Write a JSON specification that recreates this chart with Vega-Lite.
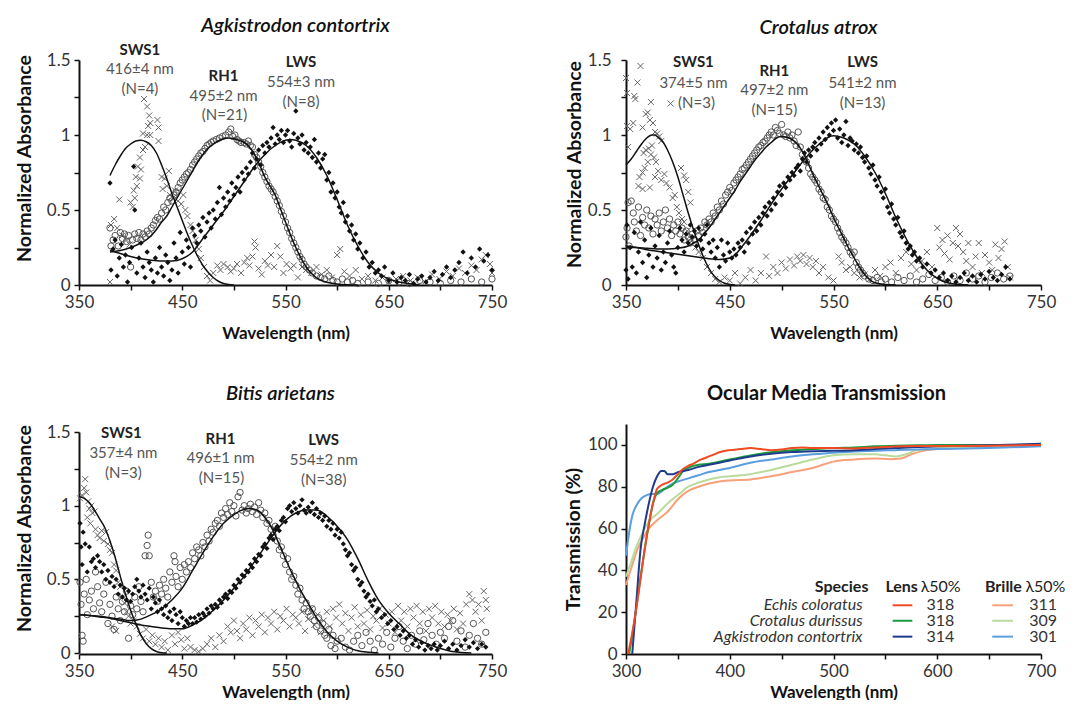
{
"$schema":"https://vega.github.io/schema/vega-lite/v6.json",
"padding":{"left":14,"top":15,"right":0,"bottom":0},
"background":"white",
"columns":2,"align":"each","bounds":"flush",
"spacing":{"row":139,"column":134},
"datasets":{
"aS":[{"x":413,"y":1.24},{"x":416,"y":1.19},{"x":418,"y":1.13},{"x":419,"y":1.08},{"x":426,"y":1.1},{"x":417,"y":1.06},{"x":427,"y":1.05},{"x":412,"y":1.01},{"x":416,"y":1.0},{"x":419,"y":1.0},{"x":427,"y":0.96},{"x":414,"y":0.92},{"x":412,"y":0.9},{"x":409,"y":0.85},{"x":407,"y":0.79},{"x":410,"y":0.77},{"x":405,"y":0.72},{"x":409,"y":0.71},{"x":406,"y":0.66},{"x":403,"y":0.63},{"x":404,"y":0.58},{"x":400,"y":0.55},{"x":402,"y":0.52},{"x":389,"y":0.57},{"x":384,"y":0.44},{"x":381,"y":0.4},{"x":387,"y":0.38},{"x":392,"y":0.33},{"x":396,"y":0.3},{"x":399,"y":0.27},{"x":380,"y":0.02},{"x":430,"y":0.72},{"x":433,"y":0.71},{"x":431,"y":0.64},{"x":437,"y":0.76},{"x":435,"y":0.66},{"x":438,"y":0.6},{"x":441,"y":0.58},{"x":443,"y":0.63},{"x":446,"y":0.56},{"x":449,"y":0.54},{"x":451,"y":0.6},{"x":453,"y":0.5},{"x":455,"y":0.46},{"x":458,"y":0.4},{"x":460,"y":0.36},{"x":463,"y":0.3},{"x":466,"y":0.24},{"x":468,"y":0.18},{"x":471,"y":0.12},{"x":474,"y":0.06},{"x":477,"y":0.03},{"x":480,"y":0.08},{"x":484,"y":0.13},{"x":487,"y":0.1},{"x":490,"y":0.14},{"x":494,"y":0.12},{"x":497,"y":0.09},{"x":500,"y":0.11},{"x":503,"y":0.14},{"x":507,"y":0.08},{"x":510,"y":0.15},{"x":513,"y":0.18},{"x":515,"y":0.13},{"x":518,"y":0.19},{"x":520,"y":0.29},{"x":521,"y":0.25},{"x":524,"y":0.11},{"x":527,"y":0.07},{"x":530,"y":0.16},{"x":533,"y":0.13},{"x":536,"y":0.2},{"x":539,"y":0.12},{"x":542,"y":0.26},{"x":545,"y":0.19},{"x":548,"y":0.08},{"x":551,"y":0.14},{"x":555,"y":0.11},{"x":558,"y":0.13},{"x":562,"y":0.05},{"x":566,"y":0.12},{"x":570,"y":0.1},{"x":575,"y":0.08},{"x":580,"y":0.12},{"x":585,"y":0.07},{"x":590,"y":0.1},{"x":595,"y":0.05},{"x":600,"y":0.2},{"x":603,"y":0.24},{"x":607,"y":0.09},{"x":612,"y":0.06},{"x":618,"y":0.1},{"x":624,"y":0.04},{"x":630,"y":0.06},{"x":637,"y":0.03},{"x":644,"y":0.05},{"x":650,"y":0.02},{"x":657,"y":0.04},{"x":664,"y":0.06},{"x":671,"y":0.03},{"x":678,"y":0.05},{"x":685,"y":0.02},{"x":692,"y":0.07},{"x":699,"y":0.04},{"x":706,"y":0.09},{"x":712,"y":0.06},{"x":718,"y":0.11},{"x":724,"y":0.08},{"x":730,"y":0.13},{"x":735,"y":0.1},{"x":740,"y":0.17},{"x":744,"y":0.2},{"x":748,"y":0.14},{"x":750,"y":0.08}],
"aR":[{"x":380,"y":0.38},{"x":381,"y":0.26},{"x":383,"y":0.3},{"x":385,"y":0.33},{"x":388,"y":0.26},{"x":390,"y":0.35},{"x":392,"y":0.31},{"x":394,"y":0.34},{"x":396,"y":0.29},{"x":398,"y":0.33},{"x":400,"y":0.12},{"x":402,"y":0.3},{"x":404,"y":0.34},{"x":406,"y":0.31},{"x":408,"y":0.35},{"x":410,"y":0.3},{"x":412,"y":0.34},{"x":414,"y":0.32},{"x":416,"y":0.36},{"x":418,"y":0.34},{"x":420,"y":0.38},{"x":422,"y":0.4},{"x":424,"y":0.43},{"x":426,"y":0.45},{"x":428,"y":0.44},{"x":430,"y":0.48},{"x":432,"y":0.52},{"x":434,"y":0.5},{"x":436,"y":0.55},{"x":438,"y":0.58},{"x":440,"y":0.56},{"x":442,"y":0.6},{"x":444,"y":0.62},{"x":446,"y":0.65},{"x":448,"y":0.68},{"x":450,"y":0.7},{"x":452,"y":0.72},{"x":454,"y":0.74},{"x":456,"y":0.75},{"x":458,"y":0.77},{"x":460,"y":0.8},{"x":462,"y":0.82},{"x":464,"y":0.84},{"x":466,"y":0.86},{"x":468,"y":0.88},{"x":470,"y":0.89},{"x":472,"y":0.91},{"x":474,"y":0.93},{"x":476,"y":0.94},{"x":478,"y":0.95},{"x":480,"y":0.96},{"x":483,"y":0.97},{"x":486,"y":0.98},{"x":489,"y":0.99},{"x":492,"y":1.0},{"x":495,"y":1.02},{"x":497,"y":1.04},{"x":499,"y":0.99},{"x":501,"y":1.0},{"x":503,"y":0.97},{"x":505,"y":0.96},{"x":507,"y":0.95},{"x":510,"y":0.95},{"x":512,"y":0.94},{"x":514,"y":0.96},{"x":516,"y":0.93},{"x":518,"y":0.92},{"x":520,"y":0.87},{"x":522,"y":0.85},{"x":524,"y":0.82},{"x":526,"y":0.79},{"x":528,"y":0.75},{"x":530,"y":0.72},{"x":532,"y":0.69},{"x":534,"y":0.66},{"x":536,"y":0.64},{"x":538,"y":0.62},{"x":540,"y":0.59},{"x":542,"y":0.56},{"x":544,"y":0.53},{"x":546,"y":0.49},{"x":548,"y":0.46},{"x":550,"y":0.42},{"x":552,"y":0.38},{"x":554,"y":0.35},{"x":556,"y":0.31},{"x":558,"y":0.28},{"x":560,"y":0.25},{"x":562,"y":0.22},{"x":564,"y":0.19},{"x":566,"y":0.17},{"x":568,"y":0.14},{"x":570,"y":0.12},{"x":573,"y":0.1},{"x":576,"y":0.08},{"x":580,"y":0.06},{"x":584,"y":0.05},{"x":588,"y":0.04},{"x":592,"y":0.06},{"x":596,"y":0.03},{"x":600,"y":0.02},{"x":605,"y":0.04},{"x":610,"y":0.02},{"x":615,"y":0.03},{"x":620,"y":0.01},{"x":630,"y":0.02},{"x":640,"y":0.01},{"x":650,"y":0.03},{"x":660,"y":0.02},{"x":670,"y":0.01},{"x":680,"y":0.03},{"x":690,"y":0.02},{"x":700,"y":0.01},{"x":710,"y":0.03},{"x":720,"y":0.02},{"x":730,"y":0.04},{"x":740,"y":0.02},{"x":750,"y":0.04}],
"aL":[{"x":380,"y":0.68},{"x":381,"y":0.1},{"x":383,"y":0.24},{"x":385,"y":0.3},{"x":387,"y":0.06},{"x":389,"y":0.18},{"x":391,"y":0.27},{"x":393,"y":0.12},{"x":395,"y":0.2},{"x":397,"y":0.02},{"x":399,"y":0.15},{"x":401,"y":0.25},{"x":403,"y":0.79},{"x":404,"y":0.5},{"x":406,"y":0.08},{"x":408,"y":0.18},{"x":410,"y":0.28},{"x":412,"y":0.12},{"x":414,"y":0.05},{"x":416,"y":0.22},{"x":418,"y":0.15},{"x":420,"y":0.1},{"x":422,"y":0.02},{"x":424,"y":0.18},{"x":426,"y":0.08},{"x":428,"y":0.25},{"x":430,"y":0.12},{"x":432,"y":0.06},{"x":434,"y":0.2},{"x":436,"y":0.15},{"x":438,"y":0.03},{"x":440,"y":0.1},{"x":442,"y":0.28},{"x":444,"y":0.18},{"x":446,"y":0.08},{"x":448,"y":0.35},{"x":450,"y":0.22},{"x":452,"y":0.14},{"x":454,"y":0.3},{"x":456,"y":0.25},{"x":458,"y":0.12},{"x":460,"y":0.38},{"x":462,"y":0.33},{"x":464,"y":0.28},{"x":466,"y":0.4},{"x":468,"y":0.36},{"x":470,"y":0.45},{"x":472,"y":0.32},{"x":474,"y":0.42},{"x":476,"y":0.48},{"x":478,"y":0.38},{"x":480,"y":0.5},{"x":482,"y":0.44},{"x":484,"y":0.55},{"x":486,"y":0.65},{"x":488,"y":0.47},{"x":490,"y":0.58},{"x":492,"y":0.52},{"x":494,"y":0.62},{"x":496,"y":0.56},{"x":498,"y":0.68},{"x":500,"y":0.6},{"x":502,"y":0.65},{"x":504,"y":0.72},{"x":506,"y":0.62},{"x":508,"y":0.75},{"x":510,"y":0.7},{"x":512,"y":0.78},{"x":514,"y":0.74},{"x":516,"y":0.82},{"x":518,"y":0.88},{"x":520,"y":0.78},{"x":522,"y":0.84},{"x":524,"y":0.9},{"x":526,"y":0.8},{"x":528,"y":0.93},{"x":530,"y":0.88},{"x":532,"y":0.95},{"x":534,"y":0.92},{"x":536,"y":0.98},{"x":538,"y":1.05},{"x":540,"y":0.94},{"x":542,"y":1.0},{"x":544,"y":0.97},{"x":546,"y":1.03},{"x":548,"y":0.95},{"x":550,"y":1.0},{"x":552,"y":1.03},{"x":554,"y":0.96},{"x":556,"y":0.92},{"x":558,"y":1.01},{"x":560,"y":1.16},{"x":562,"y":0.98},{"x":564,"y":0.94},{"x":566,"y":1.0},{"x":568,"y":0.9},{"x":570,"y":0.95},{"x":572,"y":0.88},{"x":574,"y":0.92},{"x":576,"y":0.85},{"x":578,"y":0.97},{"x":580,"y":0.82},{"x":582,"y":0.88},{"x":584,"y":0.78},{"x":586,"y":0.84},{"x":588,"y":0.87},{"x":590,"y":0.7},{"x":592,"y":0.75},{"x":594,"y":0.62},{"x":596,"y":0.68},{"x":598,"y":0.58},{"x":600,"y":0.62},{"x":602,"y":0.52},{"x":604,"y":0.48},{"x":606,"y":0.55},{"x":608,"y":0.42},{"x":610,"y":0.46},{"x":612,"y":0.36},{"x":614,"y":0.4},{"x":616,"y":0.3},{"x":618,"y":0.34},{"x":620,"y":0.24},{"x":622,"y":0.28},{"x":625,"y":0.18},{"x":628,"y":0.22},{"x":631,"y":0.12},{"x":634,"y":0.15},{"x":637,"y":0.08},{"x":640,"y":0.1},{"x":643,"y":0.06},{"x":646,"y":0.12},{"x":650,"y":0.03},{"x":654,"y":0.08},{"x":658,"y":0.02},{"x":662,"y":0.05},{"x":666,"y":0.03},{"x":670,"y":0.07},{"x":674,"y":0.01},{"x":678,"y":0.04},{"x":682,"y":0.06},{"x":686,"y":0.02},{"x":690,"y":0.05},{"x":694,"y":0.09},{"x":698,"y":0.03},{"x":702,"y":0.07},{"x":706,"y":0.12},{"x":710,"y":0.05},{"x":714,"y":0.1},{"x":718,"y":0.15},{"x":722,"y":0.22},{"x":726,"y":0.08},{"x":730,"y":0.18},{"x":734,"y":0.12},{"x":738,"y":0.24},{"x":742,"y":0.16},{"x":746,"y":0.2},{"x":750,"y":0.1}],
"aC":[{"s":"S","x":380,"y":0.73},{"s":"S","x":385,"y":0.8},{"s":"S","x":390,"y":0.86},{"s":"S","x":395,"y":0.91},{"s":"S","x":400,"y":0.94},{"s":"S","x":405,"y":0.96},{"s":"S","x":410,"y":0.965},{"s":"S","x":415,"y":0.955},{"s":"S","x":420,"y":0.93},{"s":"S","x":425,"y":0.88},{"s":"S","x":430,"y":0.8},{"s":"S","x":435,"y":0.71},{"s":"S","x":440,"y":0.61},{"s":"S","x":445,"y":0.52},{"s":"S","x":450,"y":0.43},{"s":"S","x":455,"y":0.34},{"s":"S","x":460,"y":0.26},{"s":"S","x":465,"y":0.19},{"s":"S","x":470,"y":0.13},{"s":"S","x":475,"y":0.085},{"s":"S","x":480,"y":0.05},{"s":"S","x":485,"y":0.025},{"s":"S","x":490,"y":0.01},{"s":"S","x":495,"y":0.003},{"s":"S","x":500,"y":0},
{"s":"R","x":380,"y":0.22},{"s":"R","x":390,"y":0.23},{"s":"R","x":400,"y":0.25},{"s":"R","x":410,"y":0.28},{"s":"R","x":415,"y":0.3},{"s":"R","x":420,"y":0.33},{"s":"R","x":425,"y":0.37},{"s":"R","x":430,"y":0.42},{"s":"R","x":435,"y":0.46},{"s":"R","x":440,"y":0.52},{"s":"R","x":445,"y":0.58},{"s":"R","x":450,"y":0.64},{"s":"R","x":455,"y":0.7},{"s":"R","x":460,"y":0.76},{"s":"R","x":465,"y":0.82},{"s":"R","x":470,"y":0.87},{"s":"R","x":475,"y":0.91},{"s":"R","x":480,"y":0.94},{"s":"R","x":485,"y":0.96},{"s":"R","x":490,"y":0.975},{"s":"R","x":495,"y":0.98},{"s":"R","x":500,"y":0.975},{"s":"R","x":505,"y":0.965},{"s":"R","x":510,"y":0.95},{"s":"R","x":515,"y":0.92},{"s":"R","x":520,"y":0.87},{"s":"R","x":525,"y":0.8},{"s":"R","x":530,"y":0.72},{"s":"R","x":535,"y":0.66},{"s":"R","x":540,"y":0.6},{"s":"R","x":545,"y":0.51},{"s":"R","x":550,"y":0.42},{"s":"R","x":555,"y":0.33},{"s":"R","x":560,"y":0.25},{"s":"R","x":565,"y":0.18},{"s":"R","x":570,"y":0.12},{"s":"R","x":575,"y":0.078},{"s":"R","x":580,"y":0.048},{"s":"R","x":585,"y":0.03},{"s":"R","x":590,"y":0.018},{"s":"R","x":600,"y":0.007},{"s":"R","x":610,"y":0.002},{"s":"R","x":620,"y":0},
{"s":"L","x":380,"y":0.23},{"s":"L","x":390,"y":0.21},{"s":"L","x":400,"y":0.19},{"s":"L","x":410,"y":0.175},{"s":"L","x":420,"y":0.165},{"s":"L","x":430,"y":0.16},{"s":"L","x":440,"y":0.16},{"s":"L","x":450,"y":0.175},{"s":"L","x":460,"y":0.22},{"s":"L","x":470,"y":0.31},{"s":"L","x":480,"y":0.4},{"s":"L","x":490,"y":0.49},{"s":"L","x":500,"y":0.59},{"s":"L","x":510,"y":0.69},{"s":"L","x":520,"y":0.79},{"s":"L","x":530,"y":0.87},{"s":"L","x":540,"y":0.93},{"s":"L","x":550,"y":0.965},{"s":"L","x":555,"y":0.97},{"s":"L","x":560,"y":0.965},{"s":"L","x":570,"y":0.93},{"s":"L","x":580,"y":0.85},{"s":"L","x":590,"y":0.73},{"s":"L","x":600,"y":0.57},{"s":"L","x":610,"y":0.4},{"s":"L","x":620,"y":0.26},{"s":"L","x":630,"y":0.15},{"s":"L","x":640,"y":0.08},{"s":"L","x":650,"y":0.04},{"s":"L","x":660,"y":0.02},{"s":"L","x":670,"y":0.008},{"s":"L","x":680,"y":0}],
"aT":[{"x":409,"y":1.567,"t":"SWS1"},{"x":490,"y":1.393,"t":"RH1"},{"x":565,"y":1.489,"t":"LWS"}],
"aV":[{"x":409,"y":1.438,"t":"416±4 nm"},{"x":409,"y":1.305,"t":"(N=4)"},{"x":490,"y":1.26,"t":"495±2 nm"},{"x":491,"y":1.133,"t":"(N=21)"},{"x":565,"y":1.355,"t":"554±3 nm"},{"x":565,"y":1.222,"t":"(N=8)"}],
"cS":[{"x":350,"y":1.38},{"x":351,"y":1.28},{"x":351,"y":1.06},{"x":352,"y":0.92},{"x":354,"y":1.04},{"x":357,"y":1.08},{"x":358,"y":1.26},{"x":359,"y":1.24},{"x":361,"y":1.35},{"x":364,"y":1.46},{"x":366,"y":1.05},{"x":369,"y":1.14},{"x":371,"y":1.15},{"x":373,"y":1.1},{"x":374,"y":1.22},{"x":376,"y":1.08},{"x":378,"y":1.02},{"x":380,"y":1.01},{"x":382,"y":0.99},{"x":384,"y":0.96},{"x":393,"y":1.21},{"x":367,"y":0.88},{"x":369,"y":0.9},{"x":371,"y":0.82},{"x":372,"y":0.91},{"x":374,"y":0.87},{"x":375,"y":0.93},{"x":377,"y":0.85},{"x":378,"y":0.72},{"x":366,"y":0.75},{"x":368,"y":0.78},{"x":363,"y":0.72},{"x":362,"y":0.66},{"x":366,"y":0.64},{"x":373,"y":0.65},{"x":379,"y":0.82},{"x":381,"y":0.76},{"x":384,"y":0.7},{"x":387,"y":0.74},{"x":389,"y":0.68},{"x":392,"y":0.65},{"x":395,"y":0.58},{"x":397,"y":0.6},{"x":399,"y":0.52},{"x":403,"y":0.78},{"x":406,"y":0.73},{"x":408,"y":0.7},{"x":410,"y":0.62},{"x":412,"y":0.55},{"x":401,"y":0.48},{"x":404,"y":0.44},{"x":406,"y":0.42},{"x":409,"y":0.36},{"x":411,"y":0.32},{"x":414,"y":0.3},{"x":417,"y":0.25},{"x":420,"y":0.22},{"x":424,"y":0.18},{"x":428,"y":0.12},{"x":432,"y":0.08},{"x":436,"y":0.04},{"x":440,"y":0.02},{"x":445,"y":0.05},{"x":450,"y":0.03},{"x":455,"y":0.08},{"x":460,"y":0.01},{"x":465,"y":0.05},{"x":470,"y":0.1},{"x":475,"y":0.03},{"x":480,"y":0.08},{"x":485,"y":0.19},{"x":488,"y":0.06},{"x":492,"y":0.12},{"x":496,"y":0.08},{"x":500,"y":0.15},{"x":504,"y":0.11},{"x":508,"y":0.17},{"x":512,"y":0.13},{"x":515,"y":0.19},{"x":518,"y":0.16},{"x":521,"y":0.2},{"x":524,"y":0.14},{"x":527,"y":0.18},{"x":530,"y":0.12},{"x":533,"y":0.16},{"x":536,"y":0.08},{"x":540,"y":0.12},{"x":545,"y":0.05},{"x":550,"y":0.03},{"x":555,"y":0.19},{"x":558,"y":0.15},{"x":562,"y":0.1},{"x":566,"y":0.12},{"x":570,"y":0.08},{"x":575,"y":0.05},{"x":580,"y":0.07},{"x":585,"y":0.04},{"x":590,"y":0.1},{"x":595,"y":0.06},{"x":600,"y":0.12},{"x":605,"y":0.15},{"x":610,"y":0.08},{"x":615,"y":0.18},{"x":620,"y":0.22},{"x":625,"y":0.14},{"x":630,"y":0.1},{"x":635,"y":0.16},{"x":640,"y":0.22},{"x":645,"y":0.12},{"x":650,"y":0.38},{"x":652,"y":0.25},{"x":655,"y":0.3},{"x":657,"y":0.21},{"x":660,"y":0.33},{"x":662,"y":0.17},{"x":665,"y":0.28},{"x":668,"y":0.38},{"x":670,"y":0.26},{"x":672,"y":0.34},{"x":675,"y":0.22},{"x":678,"y":0.16},{"x":680,"y":0.28},{"x":684,"y":0.12},{"x":687,"y":0.19},{"x":690,"y":0.28},{"x":693,"y":0.08},{"x":696,"y":0.2},{"x":700,"y":0.15},{"x":703,"y":0.1},{"x":706,"y":0.27},{"x":709,"y":0.18},{"x":712,"y":0.24},{"x":715,"y":0.29},{"x":718,"y":0.12},{"x":720,"y":0.05}],
"cR":[{"x":350,"y":0.32},{"x":351,"y":0.38},{"x":352,"y":0.55},{"x":353,"y":0.26},{"x":355,"y":0.56},{"x":357,"y":0.48},{"x":358,"y":0.42},{"x":360,"y":0.36},{"x":362,"y":0.52},{"x":364,"y":0.33},{"x":366,"y":0.45},{"x":368,"y":0.4},{"x":370,"y":0.5},{"x":372,"y":0.38},{"x":374,"y":0.46},{"x":376,"y":0.34},{"x":378,"y":0.44},{"x":380,"y":0.4},{"x":382,"y":0.48},{"x":384,"y":0.36},{"x":386,"y":0.42},{"x":388,"y":0.5},{"x":390,"y":0.38},{"x":392,"y":0.44},{"x":394,"y":0.33},{"x":396,"y":0.4},{"x":398,"y":0.36},{"x":400,"y":0.42},{"x":402,"y":0.34},{"x":404,"y":0.38},{"x":406,"y":0.3},{"x":408,"y":0.36},{"x":410,"y":0.32},{"x":412,"y":0.28},{"x":414,"y":0.34},{"x":416,"y":0.3},{"x":418,"y":0.36},{"x":420,"y":0.33},{"x":422,"y":0.38},{"x":424,"y":0.35},{"x":426,"y":0.42},{"x":428,"y":0.4},{"x":430,"y":0.44},{"x":432,"y":0.42},{"x":434,"y":0.48},{"x":436,"y":0.46},{"x":438,"y":0.52},{"x":440,"y":0.5},{"x":442,"y":0.56},{"x":444,"y":0.54},{"x":446,"y":0.6},{"x":448,"y":0.62},{"x":450,"y":0.65},{"x":452,"y":0.63},{"x":454,"y":0.68},{"x":456,"y":0.7},{"x":458,"y":0.72},{"x":460,"y":0.74},{"x":462,"y":0.77},{"x":464,"y":0.78},{"x":466,"y":0.8},{"x":468,"y":0.82},{"x":470,"y":0.84},{"x":472,"y":0.86},{"x":474,"y":0.88},{"x":476,"y":0.9},{"x":478,"y":0.92},{"x":480,"y":0.93},{"x":482,"y":0.95},{"x":484,"y":0.96},{"x":486,"y":0.98},{"x":488,"y":1.0},{"x":490,"y":1.02},{"x":492,"y":1.0},{"x":494,"y":1.05},{"x":496,"y":1.03},{"x":498,"y":1.01},{"x":500,"y":1.07},{"x":502,"y":1.0},{"x":504,"y":0.99},{"x":506,"y":1.02},{"x":508,"y":0.98},{"x":510,"y":1.0},{"x":512,"y":0.96},{"x":514,"y":0.93},{"x":516,"y":1.02},{"x":518,"y":0.92},{"x":520,"y":0.87},{"x":522,"y":0.84},{"x":524,"y":0.82},{"x":526,"y":0.78},{"x":528,"y":0.74},{"x":530,"y":0.72},{"x":532,"y":0.7},{"x":534,"y":0.68},{"x":536,"y":0.64},{"x":538,"y":0.62},{"x":540,"y":0.58},{"x":542,"y":0.57},{"x":544,"y":0.52},{"x":546,"y":0.5},{"x":548,"y":0.46},{"x":550,"y":0.44},{"x":552,"y":0.42},{"x":554,"y":0.38},{"x":556,"y":0.35},{"x":558,"y":0.32},{"x":560,"y":0.3},{"x":562,"y":0.28},{"x":564,"y":0.25},{"x":566,"y":0.22},{"x":568,"y":0.2},{"x":570,"y":0.22},{"x":572,"y":0.15},{"x":574,"y":0.12},{"x":576,"y":0.1},{"x":578,"y":0.08},{"x":580,"y":0.06},{"x":584,"y":0.04},{"x":588,"y":0.03},{"x":592,"y":0.05},{"x":596,"y":0.02},{"x":600,"y":0.04},{"x":606,"y":0.02},{"x":612,"y":0.05},{"x":618,"y":0.03},{"x":624,"y":0.06},{"x":630,"y":0.02},{"x":636,"y":0.04},{"x":642,"y":0.07},{"x":648,"y":0.03},{"x":654,"y":0.05},{"x":660,"y":0.02},{"x":666,"y":0.06},{"x":672,"y":0.03},{"x":678,"y":0.08},{"x":684,"y":0.04},{"x":690,"y":0.06},{"x":696,"y":0.02},{"x":702,"y":0.05},{"x":708,"y":0.08},{"x":714,"y":0.04},{"x":720,"y":0.06}],
"cL":[{"x":350,"y":0.1},{"x":351,"y":0.4},{"x":352,"y":0.04},{"x":354,"y":0.25},{"x":356,"y":0.12},{"x":358,"y":0.35},{"x":360,"y":0.08},{"x":362,"y":0.22},{"x":364,"y":0.42},{"x":366,"y":0.15},{"x":368,"y":0.3},{"x":370,"y":0.05},{"x":372,"y":0.2},{"x":374,"y":0.38},{"x":376,"y":0.12},{"x":378,"y":0.26},{"x":380,"y":0.18},{"x":382,"y":0.33},{"x":384,"y":0.1},{"x":386,"y":0.22},{"x":388,"y":0.15},{"x":390,"y":0.28},{"x":392,"y":0.36},{"x":394,"y":0.2},{"x":396,"y":0.12},{"x":398,"y":0.08},{"x":400,"y":0.25},{"x":402,"y":0.38},{"x":404,"y":0.3},{"x":406,"y":0.22},{"x":408,"y":0.34},{"x":410,"y":0.28},{"x":412,"y":0.4},{"x":414,"y":0.32},{"x":416,"y":0.36},{"x":418,"y":0.26},{"x":420,"y":0.38},{"x":422,"y":0.3},{"x":424,"y":0.24},{"x":426,"y":0.34},{"x":428,"y":0.4},{"x":430,"y":0.28},{"x":432,"y":0.22},{"x":434,"y":0.3},{"x":436,"y":0.18},{"x":438,"y":0.25},{"x":440,"y":0.12},{"x":442,"y":0.3},{"x":444,"y":0.2},{"x":446,"y":0.16},{"x":448,"y":0.28},{"x":450,"y":0.22},{"x":452,"y":0.18},{"x":454,"y":0.24},{"x":456,"y":0.2},{"x":458,"y":0.28},{"x":460,"y":0.25},{"x":462,"y":0.3},{"x":464,"y":0.22},{"x":466,"y":0.35},{"x":468,"y":0.28},{"x":470,"y":0.38},{"x":472,"y":0.34},{"x":474,"y":0.42},{"x":476,"y":0.36},{"x":478,"y":0.45},{"x":480,"y":0.4},{"x":482,"y":0.48},{"x":484,"y":0.52},{"x":486,"y":0.46},{"x":488,"y":0.55},{"x":490,"y":0.5},{"x":492,"y":0.58},{"x":494,"y":0.54},{"x":496,"y":0.62},{"x":498,"y":0.66},{"x":500,"y":0.6},{"x":502,"y":0.68},{"x":504,"y":0.65},{"x":506,"y":0.72},{"x":508,"y":0.7},{"x":510,"y":0.75},{"x":512,"y":0.73},{"x":514,"y":0.78},{"x":516,"y":0.8},{"x":518,"y":0.76},{"x":520,"y":0.84},{"x":522,"y":0.88},{"x":524,"y":0.82},{"x":526,"y":0.9},{"x":528,"y":0.86},{"x":530,"y":0.92},{"x":532,"y":0.95},{"x":534,"y":0.9},{"x":536,"y":0.98},{"x":538,"y":0.94},{"x":540,"y":1.02},{"x":542,"y":0.97},{"x":544,"y":1.05},{"x":546,"y":1.0},{"x":548,"y":1.08},{"x":550,"y":1.03},{"x":552,"y":1.1},{"x":554,"y":0.98},{"x":556,"y":1.04},{"x":558,"y":0.95},{"x":560,"y":1.0},{"x":562,"y":1.09},{"x":564,"y":0.93},{"x":566,"y":0.98},{"x":568,"y":0.96},{"x":570,"y":0.9},{"x":572,"y":0.94},{"x":574,"y":0.88},{"x":576,"y":0.92},{"x":578,"y":0.85},{"x":580,"y":0.82},{"x":582,"y":0.86},{"x":584,"y":0.78},{"x":586,"y":0.74},{"x":588,"y":0.8},{"x":590,"y":0.7},{"x":592,"y":0.66},{"x":594,"y":0.72},{"x":596,"y":0.62},{"x":598,"y":0.58},{"x":600,"y":0.64},{"x":602,"y":0.52},{"x":604,"y":0.48},{"x":606,"y":0.54},{"x":608,"y":0.44},{"x":610,"y":0.4},{"x":612,"y":0.45},{"x":614,"y":0.35},{"x":616,"y":0.32},{"x":618,"y":0.36},{"x":620,"y":0.28},{"x":622,"y":0.24},{"x":624,"y":0.26},{"x":626,"y":0.2},{"x":628,"y":0.22},{"x":630,"y":0.16},{"x":633,"y":0.18},{"x":636,"y":0.12},{"x":640,"y":0.14},{"x":644,"y":0.08},{"x":648,"y":0.1},{"x":652,"y":0.05},{"x":656,"y":0.08},{"x":660,"y":0.03},{"x":664,"y":0.06},{"x":668,"y":0.02},{"x":672,"y":0.05},{"x":676,"y":0.08},{"x":680,"y":0.03},{"x":684,"y":0.06},{"x":688,"y":0.02},{"x":692,"y":0.07},{"x":696,"y":0.04},{"x":700,"y":0.09},{"x":704,"y":0.05},{"x":708,"y":0.03},{"x":712,"y":0.07},{"x":716,"y":0.12},{"x":720,"y":0.04}],
"cC":[{"s":"S","x":350,"y":0.8},{"s":"S","x":355,"y":0.84},{"s":"S","x":360,"y":0.89},{"s":"S","x":365,"y":0.94},{"s":"S","x":370,"y":0.98},{"s":"S","x":375,"y":1.0},{"s":"S","x":378,"y":1.0},{"s":"S","x":380,"y":0.99},{"s":"S","x":385,"y":0.96},{"s":"S","x":390,"y":0.9},{"s":"S","x":395,"y":0.82},{"s":"S","x":400,"y":0.72},{"s":"S","x":405,"y":0.6},{"s":"S","x":410,"y":0.48},{"s":"S","x":415,"y":0.37},{"s":"S","x":420,"y":0.27},{"s":"S","x":425,"y":0.18},{"s":"S","x":430,"y":0.11},{"s":"S","x":435,"y":0.06},{"s":"S","x":440,"y":0.03},{"s":"S","x":445,"y":0.012},{"s":"S","x":450,"y":0.004},{"s":"S","x":455,"y":0},
{"s":"R","x":350,"y":0.25},{"s":"R","x":360,"y":0.25},{"s":"R","x":370,"y":0.245},{"s":"R","x":380,"y":0.24},{"s":"R","x":390,"y":0.24},{"s":"R","x":400,"y":0.245},{"s":"R","x":410,"y":0.26},{"s":"R","x":415,"y":0.28},{"s":"R","x":420,"y":0.3},{"s":"R","x":425,"y":0.34},{"s":"R","x":430,"y":0.38},{"s":"R","x":435,"y":0.43},{"s":"R","x":440,"y":0.48},{"s":"R","x":445,"y":0.53},{"s":"R","x":450,"y":0.58},{"s":"R","x":455,"y":0.63},{"s":"R","x":460,"y":0.69},{"s":"R","x":465,"y":0.74},{"s":"R","x":470,"y":0.79},{"s":"R","x":475,"y":0.84},{"s":"R","x":480,"y":0.88},{"s":"R","x":485,"y":0.92},{"s":"R","x":490,"y":0.95},{"s":"R","x":495,"y":0.98},{"s":"R","x":500,"y":0.99},{"s":"R","x":505,"y":0.985},{"s":"R","x":510,"y":0.97},{"s":"R","x":515,"y":0.94},{"s":"R","x":520,"y":0.89},{"s":"R","x":525,"y":0.82},{"s":"R","x":530,"y":0.74},{"s":"R","x":535,"y":0.67},{"s":"R","x":540,"y":0.6},{"s":"R","x":545,"y":0.53},{"s":"R","x":550,"y":0.45},{"s":"R","x":555,"y":0.38},{"s":"R","x":560,"y":0.31},{"s":"R","x":565,"y":0.24},{"s":"R","x":570,"y":0.18},{"s":"R","x":575,"y":0.12},{"s":"R","x":580,"y":0.07},{"s":"R","x":585,"y":0.035},{"s":"R","x":590,"y":0.015},{"s":"R","x":600,"y":0.003},{"s":"R","x":610,"y":0},
{"s":"L","x":350,"y":0.26},{"s":"L","x":360,"y":0.25},{"s":"L","x":370,"y":0.235},{"s":"L","x":380,"y":0.225},{"s":"L","x":390,"y":0.215},{"s":"L","x":400,"y":0.205},{"s":"L","x":410,"y":0.195},{"s":"L","x":420,"y":0.185},{"s":"L","x":430,"y":0.175},{"s":"L","x":440,"y":0.17},{"s":"L","x":450,"y":0.18},{"s":"L","x":455,"y":0.2},{"s":"L","x":460,"y":0.24},{"s":"L","x":470,"y":0.33},{"s":"L","x":480,"y":0.43},{"s":"L","x":490,"y":0.54},{"s":"L","x":500,"y":0.64},{"s":"L","x":510,"y":0.73},{"s":"L","x":520,"y":0.82},{"s":"L","x":530,"y":0.9},{"s":"L","x":540,"y":0.96},{"s":"L","x":545,"y":0.985},{"s":"L","x":550,"y":0.995},{"s":"L","x":555,"y":0.99},{"s":"L","x":560,"y":0.98},{"s":"L","x":570,"y":0.94},{"s":"L","x":580,"y":0.86},{"s":"L","x":590,"y":0.75},{"s":"L","x":600,"y":0.61},{"s":"L","x":610,"y":0.45},{"s":"L","x":620,"y":0.31},{"s":"L","x":630,"y":0.19},{"s":"L","x":640,"y":0.1},{"s":"L","x":650,"y":0.045},{"s":"L","x":660,"y":0.015},{"s":"L","x":670,"y":0.004},{"s":"L","x":680,"y":0}],
"cT":[{"x":415,"y":1.484,"t":"SWS1"},{"x":493,"y":1.428,"t":"RH1"},{"x":578,"y":1.484,"t":"LWS"}],
"cV":[{"x":415,"y":1.35,"t":"374±5 nm"},{"x":418,"y":1.216,"t":"(N=3)"},{"x":493,"y":1.299,"t":"497±2 nm"},{"x":493,"y":1.165,"t":"(N=15)"},{"x":578,"y":1.35,"t":"541±2 nm"},{"x":578,"y":1.216,"t":"(N=13)"}],
"bS":[{"x":351,"y":1.05},{"x":353,"y":1.07},{"x":355,"y":1.12},{"x":356,"y":1.18},{"x":357,"y":1.09},{"x":359,"y":1.03},{"x":360,"y":0.98},{"x":362,"y":1.0},{"x":358,"y":0.92},{"x":361,"y":0.88},{"x":363,"y":0.95},{"x":365,"y":0.96},{"x":366,"y":0.84},{"x":368,"y":0.8},{"x":370,"y":0.78},{"x":372,"y":0.83},{"x":374,"y":0.76},{"x":376,"y":0.82},{"x":378,"y":0.74},{"x":380,"y":0.7},{"x":382,"y":0.68},{"x":384,"y":0.6},{"x":386,"y":0.56},{"x":388,"y":0.48},{"x":390,"y":0.45},{"x":392,"y":0.38},{"x":394,"y":0.34},{"x":396,"y":0.28},{"x":398,"y":0.25},{"x":400,"y":0.2},{"x":382,"y":0.18},{"x":386,"y":0.15},{"x":403,"y":0.22},{"x":406,"y":0.18},{"x":409,"y":0.13},{"x":412,"y":0.1},{"x":415,"y":0.16},{"x":418,"y":0.08},{"x":421,"y":0.12},{"x":424,"y":0.06},{"x":427,"y":0.1},{"x":430,"y":0.04},{"x":433,"y":0.08},{"x":436,"y":0.02},{"x":440,"y":0.12},{"x":443,"y":0.06},{"x":446,"y":0.14},{"x":449,"y":0.09},{"x":452,"y":0.03},{"x":455,"y":0.1},{"x":458,"y":0.04},{"x":462,"y":0.02},{"x":466,"y":0.01},{"x":470,"y":0.03},{"x":474,"y":0.06},{"x":478,"y":0.1},{"x":482,"y":0.04},{"x":486,"y":0.12},{"x":490,"y":0.08},{"x":494,"y":0.18},{"x":497,"y":0.14},{"x":500,"y":0.22},{"x":503,"y":0.15},{"x":506,"y":0.1},{"x":509,"y":0.2},{"x":512,"y":0.16},{"x":515,"y":0.24},{"x":518,"y":0.12},{"x":521,"y":0.22},{"x":524,"y":0.18},{"x":527,"y":0.26},{"x":530,"y":0.14},{"x":533,"y":0.24},{"x":536,"y":0.2},{"x":539,"y":0.28},{"x":542,"y":0.16},{"x":545,"y":0.25},{"x":548,"y":0.22},{"x":551,"y":0.3},{"x":554,"y":0.18},{"x":557,"y":0.26},{"x":560,"y":0.24},{"x":563,"y":0.2},{"x":566,"y":0.28},{"x":569,"y":0.15},{"x":572,"y":0.23},{"x":575,"y":0.3},{"x":578,"y":0.19},{"x":581,"y":0.26},{"x":584,"y":0.14},{"x":587,"y":0.22},{"x":590,"y":0.28},{"x":593,"y":0.18},{"x":596,"y":0.3},{"x":599,"y":0.24},{"x":602,"y":0.33},{"x":605,"y":0.2},{"x":608,"y":0.27},{"x":611,"y":0.15},{"x":614,"y":0.24},{"x":617,"y":0.31},{"x":620,"y":0.18},{"x":623,"y":0.26},{"x":626,"y":0.2},{"x":629,"y":0.29},{"x":632,"y":0.16},{"x":635,"y":0.25},{"x":638,"y":0.22},{"x":641,"y":0.3},{"x":644,"y":0.17},{"x":647,"y":0.26},{"x":650,"y":0.2},{"x":653,"y":0.28},{"x":656,"y":0.14},{"x":659,"y":0.32},{"x":662,"y":0.22},{"x":665,"y":0.28},{"x":668,"y":0.18},{"x":671,"y":0.3},{"x":674,"y":0.24},{"x":677,"y":0.32},{"x":680,"y":0.2},{"x":683,"y":0.28},{"x":686,"y":0.15},{"x":689,"y":0.3},{"x":692,"y":0.24},{"x":695,"y":0.32},{"x":698,"y":0.2},{"x":701,"y":0.28},{"x":704,"y":0.18},{"x":707,"y":0.26},{"x":710,"y":0.22},{"x":713,"y":0.3},{"x":716,"y":0.16},{"x":719,"y":0.27},{"x":722,"y":0.2},{"x":725,"y":0.33},{"x":728,"y":0.4},{"x":731,"y":0.36},{"x":734,"y":0.28},{"x":737,"y":0.33},{"x":740,"y":0.22},{"x":742,"y":0.42},{"x":744,"y":0.36},{"x":745,"y":0.3}],
"bR":[{"x":351,"y":0.48},{"x":352,"y":0.33},{"x":353,"y":0.12},{"x":354,"y":0.08},{"x":355,"y":0.4},{"x":357,"y":0.5},{"x":358,"y":0.26},{"x":360,"y":0.36},{"x":362,"y":0.42},{"x":364,"y":0.3},{"x":366,"y":0.55},{"x":368,"y":0.45},{"x":370,"y":0.34},{"x":372,"y":0.28},{"x":374,"y":0.4},{"x":376,"y":0.48},{"x":378,"y":0.2},{"x":380,"y":0.33},{"x":382,"y":0.25},{"x":384,"y":0.16},{"x":386,"y":0.38},{"x":388,"y":0.3},{"x":390,"y":0.22},{"x":392,"y":0.35},{"x":394,"y":0.28},{"x":396,"y":0.42},{"x":398,"y":0.1},{"x":400,"y":0.32},{"x":402,"y":0.26},{"x":404,"y":0.38},{"x":406,"y":0.3},{"x":408,"y":0.45},{"x":410,"y":0.35},{"x":412,"y":0.28},{"x":414,"y":0.66},{"x":416,"y":0.73},{"x":417,"y":0.8},{"x":418,"y":0.66},{"x":420,"y":0.48},{"x":422,"y":0.38},{"x":424,"y":0.42},{"x":426,"y":0.35},{"x":428,"y":0.46},{"x":430,"y":0.4},{"x":432,"y":0.5},{"x":434,"y":0.44},{"x":436,"y":0.38},{"x":438,"y":0.55},{"x":440,"y":0.48},{"x":442,"y":0.66},{"x":443,"y":0.62},{"x":444,"y":0.52},{"x":446,"y":0.45},{"x":448,"y":0.58},{"x":450,"y":0.5},{"x":452,"y":0.6},{"x":454,"y":0.55},{"x":456,"y":0.62},{"x":458,"y":0.58},{"x":460,"y":0.68},{"x":462,"y":0.64},{"x":464,"y":0.72},{"x":466,"y":0.7},{"x":468,"y":0.66},{"x":470,"y":0.75},{"x":472,"y":0.72},{"x":474,"y":0.8},{"x":476,"y":0.76},{"x":478,"y":0.84},{"x":480,"y":0.82},{"x":482,"y":0.88},{"x":484,"y":0.9},{"x":486,"y":0.86},{"x":488,"y":0.95},{"x":490,"y":0.92},{"x":492,"y":0.98},{"x":494,"y":0.94},{"x":496,"y":1.02},{"x":498,"y":0.96},{"x":500,"y":1.0},{"x":502,"y":0.93},{"x":504,"y":1.06},{"x":506,"y":1.09},{"x":508,"y":0.97},{"x":510,"y":1.0},{"x":512,"y":0.95},{"x":514,"y":0.98},{"x":516,"y":1.01},{"x":518,"y":0.96},{"x":520,"y":0.99},{"x":522,"y":0.94},{"x":524,"y":1.02},{"x":526,"y":0.97},{"x":528,"y":0.92},{"x":530,"y":0.95},{"x":532,"y":0.88},{"x":534,"y":0.9},{"x":536,"y":0.84},{"x":538,"y":0.8},{"x":540,"y":0.86},{"x":542,"y":0.76},{"x":544,"y":0.7},{"x":546,"y":0.72},{"x":548,"y":0.66},{"x":550,"y":0.6},{"x":552,"y":0.64},{"x":554,"y":0.55},{"x":556,"y":0.5},{"x":558,"y":0.52},{"x":560,"y":0.46},{"x":562,"y":0.4},{"x":564,"y":0.44},{"x":566,"y":0.36},{"x":568,"y":0.3},{"x":570,"y":0.34},{"x":572,"y":0.28},{"x":574,"y":0.25},{"x":576,"y":0.3},{"x":578,"y":0.22},{"x":580,"y":0.18},{"x":582,"y":0.24},{"x":584,"y":0.15},{"x":586,"y":0.2},{"x":588,"y":0.12},{"x":590,"y":0.1},{"x":592,"y":0.16},{"x":594,"y":0.05},{"x":596,"y":0.12},{"x":598,"y":0.03},{"x":600,"y":0.08},{"x":604,"y":0.1},{"x":608,"y":0.04},{"x":612,"y":0.02},{"x":616,"y":0.08},{"x":620,"y":0.12},{"x":624,"y":0.05},{"x":628,"y":0.14},{"x":632,"y":0.08},{"x":636,"y":0.02},{"x":640,"y":0.1},{"x":644,"y":0.06},{"x":648,"y":0.14},{"x":652,"y":0.04},{"x":656,"y":0.1},{"x":660,"y":0.18},{"x":664,"y":0.08},{"x":668,"y":0.03},{"x":672,"y":0.12},{"x":676,"y":0.06},{"x":680,"y":0.15},{"x":684,"y":0.09},{"x":688,"y":0.2},{"x":692,"y":0.12},{"x":696,"y":0.06},{"x":700,"y":0.14},{"x":704,"y":0.1},{"x":708,"y":0.18},{"x":712,"y":0.22},{"x":716,"y":0.08},{"x":720,"y":0.15},{"x":724,"y":0.04},{"x":728,"y":0.12},{"x":732,"y":0.2},{"x":736,"y":0.1},{"x":740,"y":0.06},{"x":744,"y":0.14}],
"bL":[{"x":351,"y":0.88},{"x":352,"y":0.72},{"x":353,"y":0.6},{"x":354,"y":0.82},{"x":356,"y":0.74},{"x":358,"y":0.55},{"x":360,"y":0.72},{"x":362,"y":0.62},{"x":364,"y":0.64},{"x":366,"y":0.58},{"x":368,"y":0.66},{"x":370,"y":0.62},{"x":372,"y":0.55},{"x":374,"y":0.6},{"x":376,"y":0.5},{"x":378,"y":0.56},{"x":380,"y":0.48},{"x":382,"y":0.52},{"x":384,"y":0.45},{"x":386,"y":0.5},{"x":388,"y":0.4},{"x":390,"y":0.46},{"x":392,"y":0.38},{"x":394,"y":0.44},{"x":396,"y":0.36},{"x":398,"y":0.42},{"x":400,"y":0.35},{"x":402,"y":0.4},{"x":404,"y":0.45},{"x":406,"y":0.5},{"x":408,"y":0.42},{"x":410,"y":0.38},{"x":412,"y":0.46},{"x":414,"y":0.4},{"x":416,"y":0.36},{"x":418,"y":0.44},{"x":420,"y":0.3},{"x":422,"y":0.38},{"x":424,"y":0.34},{"x":426,"y":0.28},{"x":428,"y":0.36},{"x":430,"y":0.3},{"x":432,"y":0.26},{"x":434,"y":0.32},{"x":436,"y":0.24},{"x":438,"y":0.28},{"x":440,"y":0.22},{"x":442,"y":0.3},{"x":444,"y":0.26},{"x":446,"y":0.2},{"x":448,"y":0.28},{"x":450,"y":0.24},{"x":452,"y":0.18},{"x":454,"y":0.22},{"x":456,"y":0.2},{"x":458,"y":0.24},{"x":460,"y":0.2},{"x":462,"y":0.24},{"x":464,"y":0.21},{"x":466,"y":0.26},{"x":468,"y":0.23},{"x":470,"y":0.27},{"x":472,"y":0.25},{"x":474,"y":0.3},{"x":476,"y":0.27},{"x":478,"y":0.32},{"x":480,"y":0.3},{"x":482,"y":0.33},{"x":484,"y":0.31},{"x":486,"y":0.36},{"x":488,"y":0.34},{"x":490,"y":0.38},{"x":492,"y":0.4},{"x":494,"y":0.37},{"x":496,"y":0.42},{"x":498,"y":0.41},{"x":500,"y":0.46},{"x":502,"y":0.44},{"x":504,"y":0.5},{"x":506,"y":0.48},{"x":508,"y":0.53},{"x":510,"y":0.52},{"x":512,"y":0.56},{"x":514,"y":0.55},{"x":516,"y":0.6},{"x":518,"y":0.58},{"x":520,"y":0.64},{"x":522,"y":0.62},{"x":524,"y":0.67},{"x":526,"y":0.66},{"x":528,"y":0.72},{"x":530,"y":0.74},{"x":532,"y":0.71},{"x":534,"y":0.78},{"x":536,"y":0.8},{"x":538,"y":0.77},{"x":540,"y":0.84},{"x":542,"y":0.86},{"x":544,"y":0.83},{"x":546,"y":0.9},{"x":548,"y":0.92},{"x":550,"y":0.89},{"x":552,"y":0.98},{"x":554,"y":1.0},{"x":556,"y":0.96},{"x":558,"y":1.02},{"x":560,"y":0.98},{"x":562,"y":0.95},{"x":564,"y":1.0},{"x":566,"y":1.04},{"x":568,"y":0.97},{"x":570,"y":0.95},{"x":572,"y":0.99},{"x":574,"y":0.96},{"x":576,"y":1.02},{"x":578,"y":0.94},{"x":580,"y":0.98},{"x":582,"y":0.92},{"x":584,"y":0.95},{"x":586,"y":0.9},{"x":588,"y":0.93},{"x":590,"y":0.86},{"x":592,"y":0.9},{"x":594,"y":0.84},{"x":596,"y":0.88},{"x":598,"y":0.8},{"x":600,"y":0.84},{"x":602,"y":0.78},{"x":604,"y":0.82},{"x":606,"y":0.74},{"x":608,"y":0.7},{"x":610,"y":0.66},{"x":612,"y":0.68},{"x":614,"y":0.6},{"x":616,"y":0.56},{"x":618,"y":0.58},{"x":620,"y":0.5},{"x":622,"y":0.46},{"x":624,"y":0.48},{"x":626,"y":0.42},{"x":628,"y":0.38},{"x":630,"y":0.4},{"x":632,"y":0.35},{"x":634,"y":0.32},{"x":636,"y":0.36},{"x":638,"y":0.28},{"x":640,"y":0.3},{"x":643,"y":0.24},{"x":646,"y":0.26},{"x":649,"y":0.2},{"x":652,"y":0.22},{"x":655,"y":0.16},{"x":658,"y":0.18},{"x":661,"y":0.12},{"x":664,"y":0.15},{"x":667,"y":0.1},{"x":670,"y":0.12},{"x":673,"y":0.06},{"x":676,"y":0.09},{"x":679,"y":0.04},{"x":682,"y":0.07},{"x":685,"y":0.02},{"x":688,"y":0.05},{"x":691,"y":0.03},{"x":694,"y":0.06},{"x":697,"y":0.02},{"x":700,"y":0.05},{"x":704,"y":0.08},{"x":708,"y":0.03},{"x":712,"y":0.06},{"x":716,"y":0.02},{"x":720,"y":0.05},{"x":724,"y":0.09},{"x":728,"y":0.04},{"x":732,"y":0.07},{"x":736,"y":0.03},{"x":740,"y":0.06},{"x":744,"y":0.04}],
"bC":[{"s":"S","x":350,"y":1.06},{"s":"S","x":355,"y":1.05},{"s":"S","x":360,"y":1.02},{"s":"S","x":365,"y":0.97},{"s":"S","x":370,"y":0.91},{"s":"S","x":375,"y":0.85},{"s":"S","x":380,"y":0.76},{"s":"S","x":385,"y":0.65},{"s":"S","x":390,"y":0.52},{"s":"S","x":395,"y":0.4},{"s":"S","x":400,"y":0.29},{"s":"S","x":405,"y":0.2},{"s":"S","x":410,"y":0.12},{"s":"S","x":415,"y":0.065},{"s":"S","x":420,"y":0.03},{"s":"S","x":425,"y":0.01},{"s":"S","x":430,"y":0.002},{"s":"S","x":435,"y":0},
{"s":"R","x":350,"y":0.26},{"s":"R","x":360,"y":0.255},{"s":"R","x":370,"y":0.25},{"s":"R","x":380,"y":0.24},{"s":"R","x":390,"y":0.23},{"s":"R","x":400,"y":0.22},{"s":"R","x":410,"y":0.23},{"s":"R","x":420,"y":0.26},{"s":"R","x":430,"y":0.3},{"s":"R","x":440,"y":0.36},{"s":"R","x":450,"y":0.44},{"s":"R","x":460,"y":0.56},{"s":"R","x":470,"y":0.68},{"s":"R","x":480,"y":0.79},{"s":"R","x":490,"y":0.88},{"s":"R","x":500,"y":0.94},{"s":"R","x":510,"y":0.975},{"s":"R","x":515,"y":0.98},{"s":"R","x":520,"y":0.975},{"s":"R","x":525,"y":0.96},{"s":"R","x":530,"y":0.92},{"s":"R","x":535,"y":0.87},{"s":"R","x":540,"y":0.8},{"s":"R","x":545,"y":0.72},{"s":"R","x":550,"y":0.64},{"s":"R","x":555,"y":0.56},{"s":"R","x":560,"y":0.49},{"s":"R","x":565,"y":0.42},{"s":"R","x":570,"y":0.36},{"s":"R","x":575,"y":0.3},{"s":"R","x":580,"y":0.24},{"s":"R","x":585,"y":0.19},{"s":"R","x":590,"y":0.145},{"s":"R","x":595,"y":0.11},{"s":"R","x":600,"y":0.08},{"s":"R","x":610,"y":0.04},{"s":"R","x":620,"y":0.015},{"s":"R","x":630,"y":0.005},{"s":"R","x":640,"y":0},
{"s":"L","x":350,"y":0.26},{"s":"L","x":360,"y":0.255},{"s":"L","x":370,"y":0.245},{"s":"L","x":380,"y":0.235},{"s":"L","x":390,"y":0.22},{"s":"L","x":400,"y":0.205},{"s":"L","x":410,"y":0.19},{"s":"L","x":420,"y":0.18},{"s":"L","x":430,"y":0.17},{"s":"L","x":440,"y":0.165},{"s":"L","x":450,"y":0.165},{"s":"L","x":460,"y":0.19},{"s":"L","x":470,"y":0.23},{"s":"L","x":480,"y":0.29},{"s":"L","x":490,"y":0.36},{"s":"L","x":500,"y":0.44},{"s":"L","x":510,"y":0.52},{"s":"L","x":520,"y":0.62},{"s":"L","x":530,"y":0.72},{"s":"L","x":540,"y":0.82},{"s":"L","x":550,"y":0.9},{"s":"L","x":560,"y":0.95},{"s":"L","x":570,"y":0.97},{"s":"L","x":580,"y":0.97},{"s":"L","x":590,"y":0.93},{"s":"L","x":600,"y":0.86},{"s":"L","x":610,"y":0.77},{"s":"L","x":620,"y":0.64},{"s":"L","x":630,"y":0.49},{"s":"L","x":640,"y":0.36},{"s":"L","x":650,"y":0.27},{"s":"L","x":660,"y":0.2},{"s":"L","x":670,"y":0.13},{"s":"L","x":680,"y":0.085},{"s":"L","x":690,"y":0.055},{"s":"L","x":700,"y":0.03},{"s":"L","x":710,"y":0.012},{"s":"L","x":720,"y":0.004},{"s":"L","x":730,"y":0}],
"bT":[{"x":391,"y":1.494,"t":"SWS1"},{"x":487,"y":1.453,"t":"RH1"},{"x":587,"y":1.443,"t":"LWS"}],
"bV":[{"x":393,"y":1.357,"t":"357±4 nm"},{"x":393,"y":1.221,"t":"(N=3)"},{"x":487,"y":1.323,"t":"496±1 nm"},{"x":488,"y":1.187,"t":"(N=15)"},{"x":587,"y":1.307,"t":"554±2 nm"},{"x":587,"y":1.176,"t":"(N=38)"}],
"tm":[{"s":"Echis brille","x":300,"y":33},{"s":"Echis brille","x":305,"y":41},{"s":"Echis brille","x":311,"y":50},{"s":"Echis brille","x":316,"y":55},{"s":"Echis brille","x":322,"y":60},{"s":"Echis brille","x":330,"y":64},{"s":"Echis brille","x":340,"y":68},{"s":"Echis brille","x":350,"y":74},{"s":"Echis brille","x":360,"y":78},{"s":"Echis brille","x":370,"y":80},{"s":"Echis brille","x":380,"y":81.5},{"s":"Echis brille","x":390,"y":82.5},{"s":"Echis brille","x":400,"y":83},{"s":"Echis brille","x":420,"y":83.5},{"s":"Echis brille","x":440,"y":85},{"s":"Echis brille","x":460,"y":87},{"s":"Echis brille","x":480,"y":89},{"s":"Echis brille","x":500,"y":92},{"s":"Echis brille","x":520,"y":93},{"s":"Echis brille","x":540,"y":93.5},{"s":"Echis brille","x":555,"y":93.2},{"s":"Echis brille","x":565,"y":93.5},{"s":"Echis brille","x":575,"y":95.5},{"s":"Echis brille","x":590,"y":97.5},{"s":"Echis brille","x":600,"y":98},{"s":"Echis brille","x":620,"y":98.5},{"s":"Echis brille","x":650,"y":99},{"s":"Echis brille","x":700,"y":99.5},
{"s":"Crotalus brille","x":300,"y":37},{"s":"Crotalus brille","x":305,"y":44},{"s":"Crotalus brille","x":309,"y":50},{"s":"Crotalus brille","x":315,"y":57},{"s":"Crotalus brille","x":320,"y":62},{"s":"Crotalus brille","x":325,"y":65},{"s":"Crotalus brille","x":330,"y":67},{"s":"Crotalus brille","x":340,"y":72},{"s":"Crotalus brille","x":350,"y":76},{"s":"Crotalus brille","x":360,"y":80},{"s":"Crotalus brille","x":370,"y":82},{"s":"Crotalus brille","x":380,"y":83.5},{"s":"Crotalus brille","x":390,"y":84.5},{"s":"Crotalus brille","x":400,"y":85},{"s":"Crotalus brille","x":420,"y":86},{"s":"Crotalus brille","x":440,"y":88},{"s":"Crotalus brille","x":460,"y":90.5},{"s":"Crotalus brille","x":480,"y":93},{"s":"Crotalus brille","x":500,"y":95},{"s":"Crotalus brille","x":520,"y":95.5},{"s":"Crotalus brille","x":540,"y":95.5},{"s":"Crotalus brille","x":550,"y":95},{"s":"Crotalus brille","x":560,"y":94.5},{"s":"Crotalus brille","x":570,"y":95.5},{"s":"Crotalus brille","x":580,"y":97.5},{"s":"Crotalus brille","x":600,"y":98.5},{"s":"Crotalus brille","x":650,"y":99.2},{"s":"Crotalus brille","x":700,"y":99.5},
{"s":"Agkistrodon brille","x":300,"y":47},{"s":"Agkistrodon brille","x":303,"y":58},{"s":"Agkistrodon brille","x":306,"y":66},{"s":"Agkistrodon brille","x":310,"y":71},{"s":"Agkistrodon brille","x":315,"y":74.5},{"s":"Agkistrodon brille","x":320,"y":76},{"s":"Agkistrodon brille","x":325,"y":76.5},{"s":"Agkistrodon brille","x":330,"y":76.5},{"s":"Agkistrodon brille","x":335,"y":78},{"s":"Agkistrodon brille","x":340,"y":80},{"s":"Agkistrodon brille","x":345,"y":81.5},{"s":"Agkistrodon brille","x":350,"y":82.5},{"s":"Agkistrodon brille","x":360,"y":84},{"s":"Agkistrodon brille","x":370,"y":85.5},{"s":"Agkistrodon brille","x":380,"y":87},{"s":"Agkistrodon brille","x":390,"y":88},{"s":"Agkistrodon brille","x":400,"y":89},{"s":"Agkistrodon brille","x":420,"y":91.5},{"s":"Agkistrodon brille","x":440,"y":93},{"s":"Agkistrodon brille","x":460,"y":94.5},{"s":"Agkistrodon brille","x":480,"y":95.5},{"s":"Agkistrodon brille","x":500,"y":96.3},{"s":"Agkistrodon brille","x":520,"y":96.8},{"s":"Agkistrodon brille","x":540,"y":97.2},{"s":"Agkistrodon brille","x":560,"y":97.5},{"s":"Agkistrodon brille","x":580,"y":97.8},{"s":"Agkistrodon brille","x":600,"y":98},{"s":"Agkistrodon brille","x":650,"y":98.5},{"s":"Agkistrodon brille","x":700,"y":99.3},
{"s":"Crotalus lens","x":303,"y":0},{"s":"Crotalus lens","x":307,"y":12},{"s":"Crotalus lens","x":311,"y":26},{"s":"Crotalus lens","x":315,"y":40},{"s":"Crotalus lens","x":318,"y":50},{"s":"Crotalus lens","x":322,"y":62},{"s":"Crotalus lens","x":326,"y":72},{"s":"Crotalus lens","x":330,"y":77},{"s":"Crotalus lens","x":335,"y":78.5},{"s":"Crotalus lens","x":340,"y":79.5},{"s":"Crotalus lens","x":345,"y":81},{"s":"Crotalus lens","x":350,"y":84},{"s":"Crotalus lens","x":355,"y":87.5},{"s":"Crotalus lens","x":360,"y":89},{"s":"Crotalus lens","x":365,"y":90},{"s":"Crotalus lens","x":370,"y":90.5},{"s":"Crotalus lens","x":380,"y":91},{"s":"Crotalus lens","x":390,"y":92},{"s":"Crotalus lens","x":400,"y":93},{"s":"Crotalus lens","x":420,"y":95},{"s":"Crotalus lens","x":440,"y":96.5},{"s":"Crotalus lens","x":460,"y":97.5},{"s":"Crotalus lens","x":480,"y":98},{"s":"Crotalus lens","x":500,"y":98.5},{"s":"Crotalus lens","x":520,"y":98.8},{"s":"Crotalus lens","x":540,"y":99.3},{"s":"Crotalus lens","x":560,"y":99.6},{"s":"Crotalus lens","x":580,"y":99.8},{"s":"Crotalus lens","x":600,"y":100},{"s":"Crotalus lens","x":650,"y":100},{"s":"Crotalus lens","x":700,"y":100},
{"s":"Agkistrodon lens","x":306,"y":0},{"s":"Agkistrodon lens","x":310,"y":25},{"s":"Agkistrodon lens","x":314,"y":50},{"s":"Agkistrodon lens","x":318,"y":62},{"s":"Agkistrodon lens","x":322,"y":72},{"s":"Agkistrodon lens","x":326,"y":80},{"s":"Agkistrodon lens","x":330,"y":85},{"s":"Agkistrodon lens","x":334,"y":87.5},{"s":"Agkistrodon lens","x":337,"y":87.5},{"s":"Agkistrodon lens","x":340,"y":86},{"s":"Agkistrodon lens","x":345,"y":86},{"s":"Agkistrodon lens","x":350,"y":87},{"s":"Agkistrodon lens","x":355,"y":87.5},{"s":"Agkistrodon lens","x":360,"y":88},{"s":"Agkistrodon lens","x":370,"y":89.5},{"s":"Agkistrodon lens","x":380,"y":90.5},{"s":"Agkistrodon lens","x":390,"y":91.5},{"s":"Agkistrodon lens","x":400,"y":92.5},{"s":"Agkistrodon lens","x":420,"y":94.5},{"s":"Agkistrodon lens","x":440,"y":95.8},{"s":"Agkistrodon lens","x":460,"y":96.6},{"s":"Agkistrodon lens","x":480,"y":97},{"s":"Agkistrodon lens","x":500,"y":97.2},{"s":"Agkistrodon lens","x":520,"y":97.5},{"s":"Agkistrodon lens","x":540,"y":98},{"s":"Agkistrodon lens","x":560,"y":98.5},{"s":"Agkistrodon lens","x":580,"y":99},{"s":"Agkistrodon lens","x":600,"y":99.3},{"s":"Agkistrodon lens","x":650,"y":99.8},{"s":"Agkistrodon lens","x":700,"y":100.5},
{"s":"Echis lens","x":302,"y":0},{"s":"Echis lens","x":306,"y":10},{"s":"Echis lens","x":310,"y":22},{"s":"Echis lens","x":314,"y":36},{"s":"Echis lens","x":318,"y":50},{"s":"Echis lens","x":322,"y":62},{"s":"Echis lens","x":326,"y":72},{"s":"Echis lens","x":330,"y":79},{"s":"Echis lens","x":335,"y":81},{"s":"Echis lens","x":340,"y":82},{"s":"Echis lens","x":345,"y":83.5},{"s":"Echis lens","x":350,"y":86},{"s":"Echis lens","x":355,"y":88.5},{"s":"Echis lens","x":360,"y":90},{"s":"Echis lens","x":365,"y":91},{"s":"Echis lens","x":370,"y":92.5},{"s":"Echis lens","x":375,"y":93.5},{"s":"Echis lens","x":380,"y":94.5},{"s":"Echis lens","x":385,"y":95.5},{"s":"Echis lens","x":390,"y":96.5},{"s":"Echis lens","x":400,"y":97.5},{"s":"Echis lens","x":410,"y":98},{"s":"Echis lens","x":420,"y":98.5},{"s":"Echis lens","x":430,"y":98},{"s":"Echis lens","x":440,"y":97.5},{"s":"Echis lens","x":450,"y":97.8},{"s":"Echis lens","x":460,"y":98.5},{"s":"Echis lens","x":470,"y":98.8},{"s":"Echis lens","x":480,"y":98.5},{"s":"Echis lens","x":500,"y":98.5},{"s":"Echis lens","x":520,"y":98.3},{"s":"Echis lens","x":540,"y":98.8},{"s":"Echis lens","x":560,"y":99.2},{"s":"Echis lens","x":580,"y":99.5},{"s":"Echis lens","x":600,"y":99.5},{"s":"Echis lens","x":650,"y":99.6},{"s":"Echis lens","x":700,"y":100}],
"sw":[{"s":"Echis lens","x":557,"x2":576,"y":23.3},{"s":"Crotalus lens","x":557,"x2":576,"y":15.9},{"s":"Agkistrodon lens","x":557,"x2":576,"y":8.3},{"s":"Echis brille","x":653,"x2":673,"y":23.3},{"s":"Crotalus brille","x":653,"x2":673,"y":15.9},{"s":"Agkistrodon brille","x":653,"x2":673,"y":8.3}],
"lgB":[{"x":482,"y":32,"t":"Species"},{"x":550,"y":32,"t":"Lens"},{"x":646,"y":32,"t":"Brille"}],
"lgL":[{"x":584,"y":32,"t":"λ50%"},{"x":685,"y":32,"t":"λ50%"}],
"lgI":[{"x":528,"y":23.3,"t":"Echis coloratus"},{"x":528,"y":15.9,"t":"Crotalus durissus"},{"x":528,"y":8.3,"t":"Agkistrodon contortrix"}],
"lgV":[{"x":603,"y":23.3,"t":"318"},{"x":603,"y":15.9,"t":"318"},{"x":603,"y":8.3,"t":"314"},{"x":702,"y":23.3,"t":"311"},{"x":702,"y":15.9,"t":"309"},{"x":702,"y":8.3,"t":"301"}]
},
"concat":[
{"width":413,"height":225,
"title":{"text":"Agkistrodon contortrix","fontStyle":"italic","fontWeight":600,"fontSize":20,"offset":7,"dx":10},
"encoding":{
"x":{"field":"x","type":"quantitative","scale":{"domain":[350,750],"nice":false,"zero":false},"axis":{"title":"Wavelength (nm)","values":[350,400,450,500,550,600,650,700,750],"labelExpr":"datum.value % 100 == 50 ? datum.label : ''","titlePadding":15}},
"y":{"field":"y","type":"quantitative","scale":{"domain":[0,1.5],"nice":false},"axis":{"title":"Normalized Absorbance","values":[0,0.25,0.5,0.75,1,1.25,1.5],"labelExpr":"(datum.value*4) % 2 == 0 ? format(datum.value,'~g') : ''","titlePadding":12,"titleY":98,"titleFontSize":19.5}}},
"layer":[
{"data":{"name":"aS"},"mark":{"type":"point","shape":"M-1,-1L1,1M1,-1L-1,1","filled":false,"color":"#666","size":36,"strokeWidth":1,"opacity":1}},
{"data":{"name":"aR"},"mark":{"type":"point","shape":"circle","filled":false,"color":"#555","size":40,"strokeWidth":1,"opacity":1}},
{"data":{"name":"aL"},"mark":{"type":"point","shape":"diamond","filled":true,"color":"#111","size":28,"opacity":1}},
{"data":{"name":"aC"},"mark":{"type":"line","color":"#111","strokeWidth":1.5,"interpolate":"monotone"},"encoding":{"detail":{"field":"s"}}},
{"data":{"name":"aT"},"mark":{"type":"text","fontWeight":"bold","fontSize":15,"color":"#222"},"encoding":{"text":{"field":"t"}}},
{"data":{"name":"aV"},"mark":{"type":"text","fontSize":15,"color":"#555"},"encoding":{"text":{"field":"t"}}}
]},
{"width":415,"height":225,
"title":{"text":"Crotalus atrox","fontStyle":"italic","fontWeight":600,"fontSize":20,"offset":13,"dx":-15},
"encoding":{
"x":{"field":"x","type":"quantitative","scale":{"domain":[350,750],"nice":false,"zero":false},"axis":{"title":"Wavelength (nm)","values":[350,400,450,500,550,600,650,700,750],"labelExpr":"datum.value % 100 == 50 ? datum.label : ''","titlePadding":15}},
"y":{"field":"y","type":"quantitative","scale":{"domain":[0,1.5],"nice":false},"axis":{"title":"Normalized Absorbance","values":[0,0.25,0.5,0.75,1,1.25,1.5],"labelExpr":"(datum.value*4) % 2 == 0 ? format(datum.value,'~g') : ''","titlePadding":3,"labelPadding":10,"titleY":104,"titleFontSize":19.5}}},
"layer":[
{"data":{"name":"cS"},"mark":{"type":"point","shape":"M-1,-1L1,1M1,-1L-1,1","filled":false,"color":"#666","size":36,"strokeWidth":1,"opacity":1}},
{"data":{"name":"cR"},"mark":{"type":"point","shape":"circle","filled":false,"color":"#555","size":40,"strokeWidth":1,"opacity":1}},
{"data":{"name":"cL"},"mark":{"type":"point","shape":"diamond","filled":true,"color":"#111","size":28,"opacity":1}},
{"data":{"name":"cC"},"mark":{"type":"line","color":"#111","strokeWidth":1.5,"interpolate":"monotone"},"encoding":{"detail":{"field":"s"}}},
{"data":{"name":"cT"},"mark":{"type":"text","fontWeight":"bold","fontSize":15,"color":"#222"},"encoding":{"text":{"field":"t"}}},
{"data":{"name":"cV"},"mark":{"type":"text","fontSize":15,"color":"#555"},"encoding":{"text":{"field":"t"}}}
]},
{"width":413,"height":230,
"title":{"text":"Bitis arietans","fontStyle":"italic","fontWeight":600,"fontSize":20,"offset":19,"dx":-5},
"encoding":{
"x":{"field":"x","type":"quantitative","scale":{"domain":[350,750],"nice":false,"zero":false},"axis":{"title":"Wavelength (nm)","values":[350,400,450,500,550,600,650,700,750],"labelExpr":"datum.value % 100 == 50 ? datum.label : ''","titlePadding":5}},
"y":{"field":"y","type":"quantitative","scale":{"domain":[0,1.5],"nice":false,"range":[229,8]},"axis":{"title":"Normalized Absorbance","values":[0,0.25,0.5,0.75,1,1.25,1.5],"labelExpr":"(datum.value*4) % 2 == 0 ? format(datum.value,'~g') : ''","titlePadding":12,"titleY":104,"titleFontSize":19.5}}},
"layer":[
{"data":{"name":"bS"},"mark":{"type":"point","shape":"M-1,-1L1,1M1,-1L-1,1","filled":false,"color":"#666","size":36,"strokeWidth":1,"opacity":1}},
{"data":{"name":"bR"},"mark":{"type":"point","shape":"circle","filled":false,"color":"#555","size":40,"strokeWidth":1,"opacity":1}},
{"data":{"name":"bL"},"mark":{"type":"point","shape":"diamond","filled":true,"color":"#111","size":28,"opacity":1}},
{"data":{"name":"bC"},"mark":{"type":"line","color":"#111","strokeWidth":1.5,"interpolate":"monotone"},"encoding":{"detail":{"field":"s"}}},
{"data":{"name":"bT"},"mark":{"type":"text","fontWeight":"bold","fontSize":15,"color":"#222"},"encoding":{"text":{"field":"t"}}},
{"data":{"name":"bV"},"mark":{"type":"text","fontSize":15,"color":"#555"},"encoding":{"text":{"field":"t"}}}
]},
{"width":415,"height":230,
"title":{"text":"Ocular Media Transmission","fontWeight":"bold","fontSize":20,"offset":20,"dx":-7},
"encoding":{
"x":{"field":"x","type":"quantitative","scale":{"domain":[300,700],"nice":false,"zero":false},"axis":{"title":"Wavelength (nm)","values":[300,350,400,450,500,550,600,650,700],"labelExpr":"datum.value % 100 == 0 ? datum.label : ''","titlePadding":5}},
"y":{"field":"y","type":"quantitative","scale":{"domain":[0,110],"nice":false},"axis":{"title":"Transmission (%)","values":[0,20,40,60,80,100],"titlePadding":4,"titleFontSize":19.5}}},
"layer":[
{"data":{"name":"tm"},"mark":{"type":"line","strokeWidth":2,"interpolate":"monotone"},"encoding":{"color":{"field":"s","type":"nominal","scale":{"domain":["Echis lens","Crotalus lens","Agkistrodon lens","Echis brille","Crotalus brille","Agkistrodon brille"],"range":["#ef4a24","#199a3c","#1f3c8c","#f8a07a","#b9dc9c","#5a9edf"]},"legend":null}}},
{"data":{"name":"sw"},"mark":{"type":"rule","strokeWidth":2},"encoding":{"x2":{"field":"x2"},"color":{"field":"s","type":"nominal","legend":null}}},
{"data":{"name":"lgB"},"mark":{"type":"text","fontWeight":"bold","fontSize":16,"color":"#222","align":"left"},"encoding":{"text":{"field":"t"}}},
{"data":{"name":"lgL"},"mark":{"type":"text","fontSize":16,"color":"#222","align":"left"},"encoding":{"text":{"field":"t"}}},
{"data":{"name":"lgI"},"mark":{"type":"text","fontStyle":"italic","fontSize":16,"color":"#333","align":"right"},"encoding":{"text":{"field":"t"}}},
{"data":{"name":"lgV"},"mark":{"type":"text","fontSize":16,"color":"#333","align":"center"},"encoding":{"text":{"field":"t"}}}
]}
],
"config":{
"font":"Lato",
"view":{"stroke":null},
"axis":{"grid":false,"domainColor":"#111","domainWidth":2,"tickColor":"#111","tickWidth":1.5,"tickSize":5,"labelFont":"Lato","labelFontSize":17,"labelColor":"#333","labelFlush":false,"labelOverlap":false,"labelPadding":4,"titleFont":"Lato","titleFontSize":17,"titleFontWeight":"bold","titleColor":"#111"},
"title":{"font":"Lato","color":"#111","anchor":"middle"}
}
}
